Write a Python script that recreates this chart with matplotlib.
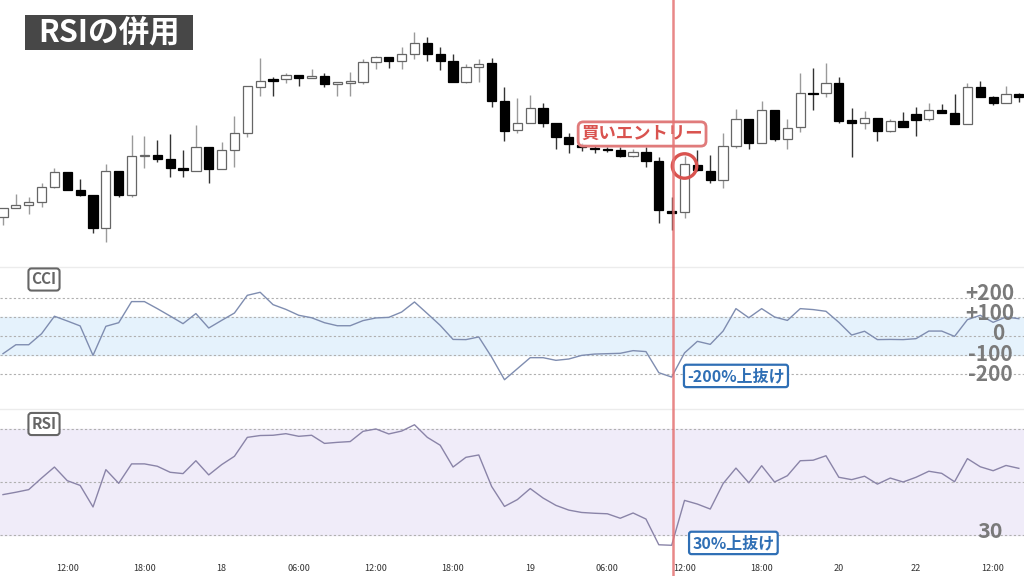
import matplotlib
matplotlib.use("Agg")
import matplotlib.pyplot as plt
from matplotlib.lines import Line2D
from matplotlib.patches import Rectangle
from matplotlib.transforms import blended_transform_factory

plt.rcParams['font.family'] = ['Noto Sans CJK JP', 'DejaVu Sans']

# hourly candles (price in chart units)
opens = [53, 62, 65, 68, 83, 98, 80, 75, 42, 99,
         75, 114, 115, 111, 102, 99, 123, 101, 120, 137,
         183, 191, 191, 195, 192, 194, 186, 187, 188, 208,
         213, 209, 216, 227, 216, 209, 188, 203, 207, 169,
         140, 147, 162, 147, 133, 125, 122, 121, 120, 114,
         118, 109, 59, 58, 105, 99, 90, 124, 151, 127,
         160, 131, 143, 177, 177, 187, 150, 147, 152, 139,
         149, 156, 151, 160, 157, 146, 183, 173, 167, 176]
closes = [62, 65, 68, 83, 98, 80, 75, 42, 99, 75,
          114, 115, 111, 102, 100, 123, 101, 120, 137, 184,
          189, 189, 195, 192, 194, 186, 188, 189, 208, 213,
          209, 216, 227, 216, 209, 188, 203, 206, 169, 139,
          147, 162, 147, 133, 126, 123, 121, 120, 114, 118,
          109, 60, 57, 106, 100, 90, 124, 151, 127, 160,
          131, 142, 177, 176, 187, 149, 147, 152, 139, 149,
          143, 150, 160, 157, 146, 183, 173, 167, 176, 173]
highs = [62, 76, 73, 87, 102, 98, 91, 75, 106, 99,
         135, 134, 130, 136, 120, 145, 123, 128, 154, 184,
         212, 193, 197, 195, 201, 197, 188, 198, 211, 214,
         213, 223, 238, 233, 223, 216, 206, 211, 212, 183,
         172, 175, 167, 147, 137, 127, 125, 123, 123, 121,
         123, 113, 73, 114, 120, 115, 137, 161, 151, 169,
         160, 151, 197, 202, 207, 193, 162, 159, 152, 151,
         158, 163, 167, 166, 176, 187, 189, 174, 184, 177]
lows = [45, 62, 56, 63, 82, 80, 74, 37, 28, 73,
        73, 102, 108, 93, 93, 99, 87, 101, 103, 133,
        174, 174, 187, 184, 192, 183, 174, 174, 186, 201,
        202, 201, 211, 209, 200, 188, 187, 188, 163, 129,
        137, 147, 143, 121, 117, 119, 117, 118, 113, 113,
        103, 47, 40, 52, 99, 87, 82, 122, 121, 127,
        129, 121, 138, 160, 173, 147, 113, 141, 129, 138,
        143, 134, 149, 157, 146, 146, 173, 165, 167, 168]

cci = [-93, -46, -46, 12, 104, 79, 53, -102, 51, 70,
       181, 181, 144, 105, 65, 118, 42, 82, 121, 214,
       230, 165, 140, 109, 96, 70, 54, 54, 81, 95,
       98, 126, 179, 118, 56, -18, -19, -5, -111, -230,
       -172, -114, -114, -128, -121, -102, -95, -93, -91, -77,
       -82, -193, -216, -89, -28, -44, 26, 144, 96, 144,
       100, 82, 144, 139, 130, 72, 5, 25, -19, -18,
       -19, -14, 26, 26, -2, 86, 109, 72, 100, 91]

rsi = [45.2, 46.1, 47.1, 51.5, 55.7, 50.5, 48.7, 40.5, 54.7, 49.5,
       56.9, 56.9, 56.0, 53.7, 53.2, 58.1, 52.7, 56.6, 59.8, 67.0,
       67.7, 67.8, 68.4, 67.4, 67.8, 64.7, 65.1, 65.4, 69.3, 70.2,
       68.3, 69.4, 71.8, 67.0, 64.0, 55.7, 59.4, 60.3, 48.3, 40.7,
       43.3, 47.5, 43.9, 41.1, 39.3, 38.4, 38.1, 37.9, 36.2, 38.2,
       35.9, 26.1, 25.9, 43.0, 41.6, 39.7, 49.4, 55.3, 49.7, 56.2,
       50.0, 52.4, 58.1, 58.3, 60.0, 51.8, 50.9, 52.2, 49.2, 51.5,
       50.0, 51.8, 54.1, 53.3, 50.1, 58.9, 55.8, 54.3, 56.3, 55.2]

tick_pos = [5, 11, 17, 23, 29, 35, 41, 47, 53, 59, 65, 71, 77]
tick_labels = ['12:00', '18:00', '18', '06:00', '12:00', '18:00', '19',
               '06:00', '12:00', '18:00', '20', '22', '12:00']

cci_levels = [200, 100, 0, -100, -200]
cci_labels = ['+200', '+100', '0', '-100', '-200']
rsi_levels = [70, 50, 30]

entry_x = 52.1
W, H = 1024, 576
XLIM = (-0.233, 79.4)

fig = plt.figure(figsize=(W / 100, H / 100), dpi=100)
fig.patch.set_facecolor('white')


def add_panel(top, bottom):
    ax = fig.add_axes([0, 1 - bottom / H, 1, (bottom - top) / H])
    ax.set_xlim(*XLIM)
    for s in ax.spines.values():
        s.set_visible(False)
    ax.set_xticks([])
    ax.set_yticks([])
    return ax


ax_p = add_panel(0, 265)
ax_c = add_panel(267, 409)
ax_r = add_panel(409, 560)
ax_p.set_ylim(5, 270)
ax_c.set_ylim(-384, 363)
ax_r.set_ylim(20.3, 77.8)

# candles
for i in range(len(opens)):
    o, c, h, l = opens[i], closes[i], highs[i], lows[i]
    up = c >= o
    wick_col = '#9a9a9a' if up else '#333333'
    ax_p.vlines(i, l, h, color=wick_col, lw=1.0, zorder=2)
    body = max(abs(c - o), 1.5)
    ax_p.bar(i, body, bottom=min(o, c), width=0.72,
             color='white' if up else 'black',
             edgecolor='#666666' if up else 'black', lw=0.9, zorder=3)

# CCI panel
ax_c.axhspan(-100, 100, color='#e5f2fc', zorder=0)
for lv in cci_levels:
    ax_c.axhline(lv, color='#b0b0b0', lw=0.8, ls=(0, (2, 2)), zorder=1)
ax_c.plot(range(len(cci)), cci, color='#7f8db0', lw=1.0, zorder=3)
label_y = [222, 118, 15, -95, -200]
label_x = [76.75, 76.75, 77.4, 76.75, 76.75]
for lx, ly, t in zip(label_x, label_y, cci_labels):
    ax_c.text(lx, ly, t, ha='center', va='center', fontsize=15,
              weight='bold', color='#7a7a7a', zorder=5)

# RSI panel
ax_r.axhspan(30, 70, color='#f0ecf9', zorder=0)
for lv in rsi_levels:
    ax_r.axhline(lv, color='#b0b0b0', lw=0.8, ls=(0, (2, 2)), zorder=1)
ax_r.plot(range(len(rsi)), rsi, color='#8a84a8', lw=1.0, zorder=3)
ax_r.text(76.8, 31.0, '30', ha='center', va='center', fontsize=15.5,
          weight='bold', color='#7a7a7a', zorder=5)

ax_r.set_xticks(tick_pos)
ax_r.set_xticklabels(tick_labels, fontsize=6.5, color='#333333')
ax_r.tick_params(axis='x', length=0, pad=3)

# panel separators
for yy in (267, 409):
    fig.add_artist(Line2D([0, 1], [1 - yy / H] * 2, color='#ececec', lw=1.0))

# entry marker line through all panels
tr = blended_transform_factory(ax_p.transData, fig.transFigure)
fig.add_artist(Line2D([entry_x, entry_x], [0, 1], transform=tr,
                      color='#e57373', lw=1.8, alpha=0.85, zorder=10))

ax_p.scatter([53], [104], s=310, facecolors='none', edgecolors='#d9534f',
             linewidths=2.4, zorder=6)
ax_p.text(49.7, 136, '買いエントリー', ha='center', va='center', fontsize=12.5,
          weight='bold', color='#d9534f', zorder=7,
          bbox=dict(boxstyle='round,pad=0.18,rounding_size=0.3',
                    facecolor=(1, 1, 1, 0.75), edgecolor='#e07b7b', lw=2))

ax_c.text(57.0, -210, '-200%上抜け', ha='center', va='center', fontsize=11.5,
          weight='bold', color='#2f6fb5', zorder=7,
          bbox=dict(boxstyle='round,pad=0.2,rounding_size=0.15',
                    facecolor='white', edgecolor='#2f6fb5', lw=1.6))
ax_r.text(56.8, 26.8, '30%上抜け', ha='center', va='center', fontsize=11.5,
          weight='bold', color='#2f6fb5', zorder=7,
          bbox=dict(boxstyle='round,pad=0.2,rounding_size=0.15',
                    facecolor='white', edgecolor='#2f6fb5', lw=1.6))

# badges and title
for t, yy in (('CCI', 279.5), ('RSI', 424)):
    fig.text(44 / W, 1 - yy / H, t, ha='center', va='center', fontsize=11,
             weight='bold', color='#666666',
             bbox=dict(boxstyle='round,pad=0.2,rounding_size=0.2',
                       facecolor='white', edgecolor='#666666', lw=1.5))

fig.add_artist(Rectangle((25 / W, 1 - 50 / H), 168 / W, 35 / H,
                         transform=fig.transFigure, facecolor='#474747',
                         edgecolor='none'))
fig.text(109 / W, 1 - 33 / H, 'RSIの併用', ha='center', va='center',
         fontsize=22, weight='bold', color='white')

fig.savefig('out.png', dpi=100)
